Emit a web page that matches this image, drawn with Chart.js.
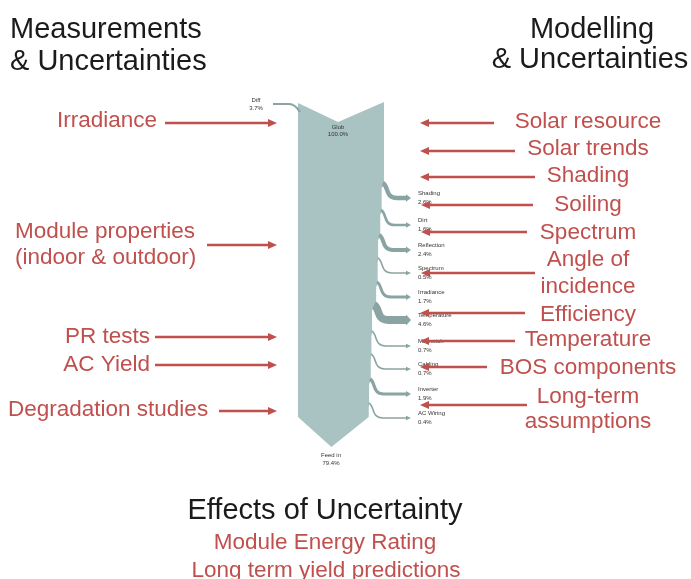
<!DOCTYPE html>
<html>
<head>
<meta charset="utf-8">
<script src="https://cdn.jsdelivr.net/npm/chart.js@4"></script>
<style>
html,body{margin:0;padding:0;background:#fff;}
#wrap{width:691px;height:579px;position:relative;}
</style>
</head>
<body>
<div id="wrap"><canvas id="c"></canvas></div>
<script>
// ---------------- DATA ----------------
const INPUT_LABEL = 'Glob';
const INPUT_VALUE = 100.0;
const DIFF_LABEL = 'Diff';
const DIFF_VALUE = 3.7;
const LOSS_LABELS = ['Shading', 'Dirt', 'Reflection', 'Spectrum', 'Irradiance', 'Temperature', 'Mismatch', 'Cabling', 'Inverter', 'AC Wiring'];
const LOSS_VALUES = [2.6, 1.6, 2.4, 0.5, 1.7, 4.6, 0.7, 0.7, 1.9, 0.4];
const OUTPUT_LABEL = 'Feed in';
const OUTPUT_VALUE = 79.4;

const HEAD_LEFT = ['Measurements', '& Uncertainties'];
const HEAD_RIGHT = ['Modelling', '& Uncertainties'];
const MEASURE_LABELS = [['Irradiance'], ['Module properties', '(indoor & outdoor)'], ['PR tests'], ['AC Yield'], ['Degradation studies']];
const MODEL_LABELS = [['Solar resource'], ['Solar trends'], ['Shading'], ['Soiling'], ['Spectrum'], ['Angle of', 'incidence'], ['Efficiency'], ['Temperature'], ['BOS components'], ['Long-term', 'assumptions']];
const EFFECTS_TITLE = 'Effects of Uncertainty';
const EFFECTS_LINES = ['Module Energy Rating', 'Long term yield predictions'];

// ---------------- LAYOUT / STYLE ----------------
const RED = '#c0504d';
const DARK = '#1b1b1b';
const TRUNK_FILL = '#a9c3c2';
const BRANCH_COLOR = '#8aa4a3';
const FONT = '"Liberation Sans", Arial, Helvetica, sans-serif';

const TRUNK = { left: 298, width: 86, top: 103, notch: 122, bottom: 417, tip: 447 };
const BRANCH_Y0 = [185, 212, 237, 260, 284, 307, 333, 356, 381, 405];
const BRANCH_DROP = 13;
const BRANCH_END = 411;
const BRANCH_LABEL_X = 418;

const MEASURE_LAYOUT = [
  { align: 'right', x: 157, ys: [121], arrowY: 123, x0: 165, x1: 277 },
  { align: 'left', x: 15, ys: [232, 258], arrowY: 245, x0: 207, x1: 277 },
  { align: 'right', x: 150, ys: [337], arrowY: 337, x0: 155, x1: 277 },
  { align: 'right', x: 150, ys: [365], arrowY: 365, x0: 155, x1: 277 },
  { align: 'left', x: 8, ys: [410], arrowY: 411, x0: 219, x1: 277 }
];
const MODEL_TEXT_X = 588;
const MODEL_LAYOUT = [
  { ys: [122], arrowY: 123, x0: 494, x1: 420 },
  { ys: [149], arrowY: 151, x0: 515, x1: 420 },
  { ys: [176], arrowY: 177, x0: 535, x1: 420 },
  { ys: [205], arrowY: 205, x0: 533, x1: 421 },
  { ys: [233], arrowY: 232, x0: 527, x1: 421 },
  { ys: [260, 287], arrowY: 273, x0: 535, x1: 421 },
  { ys: [315], arrowY: 313, x0: 525, x1: 420 },
  { ys: [340], arrowY: 341, x0: 515, x1: 420 },
  { ys: [368], arrowY: 367, x0: 487, x1: 420 },
  { ys: [397, 422], arrowY: 405, x0: 527, x1: 420 }
];

const fmt = v => v.toFixed(1) + '%';

const diagramPlugin = {
  id: 'uncertaintyDiagram',
  afterDraw(chart) {
    const ctx = chart.ctx;
    const xs = chart.scales.x, ys = chart.scales.y;
    const px = v => xs.getPixelForValue(v);
    const py = v => ys.getPixelForValue(v);

    const text = (str, x, y, size, color, align, weight) => {
      ctx.save();
      ctx.font = (weight || 'normal') + ' ' + size + 'px ' + FONT;
      ctx.fillStyle = color;
      ctx.textAlign = align || 'left';
      ctx.textBaseline = 'middle';
      ctx.fillText(str, px(x), py(y));
      ctx.restore();
    };
    const arrow = (x0, x1, y, color, lw, len, half) => {
      ctx.save();
      ctx.strokeStyle = color; ctx.fillStyle = color; ctx.lineWidth = lw;
      const dir = x1 > x0 ? 1 : -1;
      ctx.beginPath();
      ctx.moveTo(px(x0), py(y));
      ctx.lineTo(px(x1 - dir * len * 0.6), py(y));
      ctx.stroke();
      ctx.beginPath();
      ctx.moveTo(px(x1), py(y));
      ctx.lineTo(px(x1 - dir * len), py(y - half));
      ctx.lineTo(px(x1 - dir * len), py(y + half));
      ctx.closePath();
      ctx.fill();
      ctx.restore();
    };

    // ---- Sankey trunk ----
    const k = TRUNK.width / (INPUT_VALUE - DIFF_VALUE);
    let xR = TRUNK.left + (INPUT_VALUE - DIFF_VALUE) * k;
    const edges = [];
    ctx.save();
    ctx.fillStyle = TRUNK_FILL;
    ctx.beginPath();
    ctx.moveTo(px(TRUNK.left), py(TRUNK.top));
    ctx.lineTo(px(TRUNK.left + 40), py(TRUNK.notch));
    ctx.lineTo(px(xR), py(TRUNK.top - 1));
    LOSS_VALUES.forEach((v, i) => {
      const y0 = BRANCH_Y0[i];
      ctx.lineTo(px(xR), py(y0));
      edges.push(xR);
      xR -= v * k;
      ctx.lineTo(px(xR), py(y0 + 3));
    });
    ctx.lineTo(px(xR), py(TRUNK.bottom));
    ctx.lineTo(px((TRUNK.left + xR) / 2 - 2), py(TRUNK.tip));
    ctx.lineTo(px(TRUNK.left), py(TRUNK.bottom));
    ctx.closePath();
    ctx.fill();
    // subtle lighter band for loss region
    ctx.restore();

    // ---- Loss branches ----
    LOSS_VALUES.forEach((v, i) => {
      const y0 = BRANCH_Y0[i], y1 = y0 + BRANCH_DROP;
      const th = Math.max(1.6, v * 1.7);
      const xs0 = edges[i] - (v * k) / 2;
      ctx.save();
      ctx.strokeStyle = BRANCH_COLOR;
      ctx.fillStyle = BRANCH_COLOR;
      ctx.lineWidth = th;
      ctx.beginPath();
      ctx.moveTo(px(xs0), py(y0 - 2));
      ctx.bezierCurveTo(px(xs0 + 6), py(y0 + 1), px(xs0 + 2), py(y1), px(xs0 + 14), py(y1));
      ctx.lineTo(px(BRANCH_END - 4), py(y1));
      ctx.stroke();
      ctx.beginPath();
      ctx.moveTo(px(BRANCH_END), py(y1));
      ctx.lineTo(px(BRANCH_END - 5), py(y1 - th / 2 - 1.5));
      ctx.lineTo(px(BRANCH_END - 5), py(y1 + th / 2 + 1.5));
      ctx.closePath();
      ctx.fill();
      ctx.restore();
      text(LOSS_LABELS[i], BRANCH_LABEL_X, y1 - 5, 6, '#333', 'left');
      text(fmt(v), BRANCH_LABEL_X, y1 + 4, 6, '#333', 'left');
    });

    // ---- Diff flow at top-left ----
    ctx.save();
    ctx.strokeStyle = BRANCH_COLOR;
    ctx.lineWidth = Math.max(1.6, DIFF_VALUE * 0.6);
    ctx.beginPath();
    ctx.moveTo(px(273), py(104));
    ctx.lineTo(px(289), py(104));
    ctx.quadraticCurveTo(px(295), py(104), px(300), py(112));
    ctx.stroke();
    ctx.restore();
    text(DIFF_LABEL, 256, 100, 6, '#333', 'center');
    text(fmt(DIFF_VALUE), 256, 108, 6, '#333', 'center');
    text(INPUT_LABEL, 338, 127, 6, '#333', 'center');
    text(fmt(INPUT_VALUE), 338, 134, 6, '#333', 'center');
    text(OUTPUT_LABEL, 331, 455, 6, '#333', 'center');
    text(fmt(OUTPUT_VALUE), 331, 463, 6, '#333', 'center');

    // ---- Headings ----
    text(HEAD_LEFT[0], 10, 30, 29, DARK, 'left');
    text(HEAD_LEFT[1], 10, 62, 29, DARK, 'left');
    text(HEAD_RIGHT[0], 592, 30, 29, DARK, 'center');
    text(HEAD_RIGHT[1], 590, 60, 29, DARK, 'center');

    // ---- Measurement labels + arrows ----
    MEASURE_LABELS.forEach((lines, i) => {
      const L = MEASURE_LAYOUT[i];
      lines.forEach((s, j) => text(s, L.x, L.ys[j], 22.5, RED, L.align));
      arrow(L.x0, L.x1, L.arrowY, RED, 2.5, 9, 4);
    });

    // ---- Modelling labels + arrows ----
    MODEL_LABELS.forEach((lines, i) => {
      const L = MODEL_LAYOUT[i];
      lines.forEach((s, j) => text(s, MODEL_TEXT_X, L.ys[j], 22.5, RED, 'center'));
      arrow(L.x0, L.x1, L.arrowY, RED, 2.5, 9, 4);
    });

    // ---- Effects ----
    text(EFFECTS_TITLE, 325, 511, 29, DARK, 'center');
    text(EFFECTS_LINES[0], 325, 543, 22.5, RED, 'center');
    text(EFFECTS_LINES[1], 326, 571, 22.5, RED, 'center');
  }
};

new Chart(document.getElementById('c'), {
  type: 'scatter',
  data: { datasets: [] },
  options: {
    responsive: true,
    maintainAspectRatio: false,
    animation: false,
    layout: { padding: 0 },
    plugins: { legend: { display: false }, tooltip: { enabled: false }, title: { display: false } },
    scales: {
      x: { type: 'linear', min: 0, max: 691, display: false },
      y: { type: 'linear', min: 0, max: 579, reverse: true, display: false }
    }
  },
  plugins: [diagramPlugin]
});
</script>
</body>
</html>
